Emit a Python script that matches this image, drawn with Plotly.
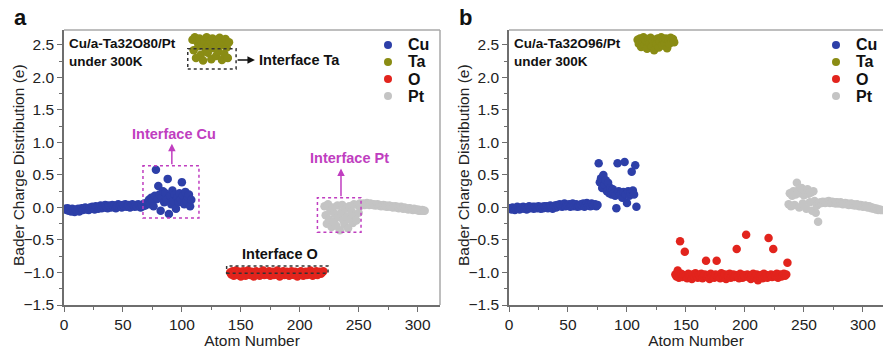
import plotly.graph_objects as go

# ---------------- data: Bader charge per atom ----------------
# Panel a : Cu / a-Ta32O80 / Pt
a_cu = [-0.02, -0.04, -0.01, -0.05, -0.03, -0.06, -0.02, -0.04, -0.07, -0.03,
        -0.05, -0.02, -0.06, -0.03, -0.01, -0.04, -0.02, 0.00, -0.03, -0.01,
        -0.04, 0.00, -0.02, 0.01, -0.01, -0.03, 0.02, 0.00, -0.02, 0.01,
        0.03, -0.01, 0.02, 0.00, 0.04, 0.01, -0.01, 0.03, 0.02, 0.00,
        0.04, 0.01, 0.03, -0.01, 0.02, 0.05, 0.01, 0.03, 0.00, 0.04,
        0.02, 0.05, 0.01, 0.03, 0.04, 0.00, 0.02, 0.05, 0.03, 0.01,
        0.04, 0.02, 0.05, 0.03, 0.00, 0.04, 0.02, 0.06, 0.03, 0.05,
        0.08, 0.12, 0.05, 0.15, 0.10, 0.02, 0.18, 0.58, 0.13, 0.33,
        0.20, -0.05, 0.15, 0.25, 0.08, 0.22, 0.12, 0.44, -0.10, 0.18,
        0.05, 0.26, 0.10, 0.20, -0.02, 0.15, 0.08, 0.22, 0.12, 0.39,
        0.18, 0.05, 0.24, 0.10, 0.16, 0.20, 0.02, 0.12]
a_ta = [2.58, 2.42, 2.62, 2.30, 2.55, 2.48, 2.60, 2.35, 2.52, 2.26,
        2.57, 2.44, 2.62, 2.38, 2.50, 2.56, 2.28, 2.60, 2.45, 2.53,
        2.33, 2.58, 2.40, 2.61, 2.49, 2.27, 2.55, 2.36, 2.59, 2.46,
        2.30, 2.54]
a_o = [-1.00, -1.03, -0.98, -1.05, -1.01, -0.97, -1.04, -1.02, -0.99, -1.06,
       -1.01, -0.98, -1.03, -1.05, -1.00, -0.97, -1.02, -1.04, -0.99, -1.01,
       -1.06, -1.00, -0.98, -1.03, -1.01, -1.05, -0.99, -1.02, -0.97, -1.04,
       -1.00, -1.03, -1.01, -0.98, -1.05, -1.02, -0.99, -1.04, -1.00, -1.03,
       -0.97, -1.01, -1.06, -1.00, -1.02, -0.98, -1.04, -1.01, -0.99, -1.03,
       -1.05, -1.00, -0.98, -1.02, -1.04, -0.99, -1.01, -1.06, -1.00, -1.03,
       -0.98, -1.02, -1.05, -1.00, -0.99, -1.04, -1.01, -1.03, -0.97, -1.02,
       -1.05, -1.00, -1.03, -0.98, -1.04, -1.01, -0.99, -1.02, -1.00, -0.98]
a_pt = [0.02, -0.12, -0.25, 0.05, -0.18, -0.05, -0.30, 0.00, -0.22, -0.10,
        -0.28, 0.03, -0.15, -0.35, -0.08, 0.04, -0.20, -0.26, -0.02, -0.14,
        -0.32, 0.02, -0.18, -0.06, -0.24, 0.05, -0.12, -0.20, 0.04, -0.08,
        0.06, 0.03,
        0.05, 0.06, 0.04, 0.05, 0.07, 0.05, 0.04, 0.06, 0.05, 0.04,
        0.05, 0.03, 0.04, 0.05, 0.03, 0.04, 0.02, 0.03, 0.04, 0.02,
        0.03, 0.01, 0.02, 0.03, 0.01, 0.02, 0.00, 0.01, 0.02, 0.00,
        0.01, -0.01, 0.00, 0.01, -0.01, -0.02, 0.00, -0.01, -0.02, -0.03,
        -0.01, -0.02, -0.03, -0.04, -0.02, -0.03, -0.04, -0.03, -0.05, -0.04,
        -0.05, -0.04, -0.05, -0.05]

# Panel b : Cu / a-Ta32O96 / Pt
b_cu = [-0.01, -0.03, 0.00, -0.02, -0.04, -0.01, 0.01, -0.02, -0.03, 0.00,
        -0.01, 0.01, -0.02, 0.00, -0.03, -0.01, 0.02, -0.01, 0.00, 0.01,
        -0.02, 0.01, 0.00, -0.01, 0.02, 0.00, -0.02, 0.01, -0.01, 0.02,
        0.00, 0.02, -0.01, 0.01, 0.03, 0.00, -0.02, 0.01, 0.03, 0.00,
        0.04, 0.02, 0.05, 0.03, 0.01, 0.04, 0.06, 0.02, 0.04, 0.03,
        0.05, 0.01, 0.03, 0.06, 0.02, 0.04, 0.05, 0.01, 0.03, 0.02,
        0.05, 0.03, 0.06, 0.01, 0.04, 0.07, 0.03, 0.05, 0.02, 0.06,
        0.04, 0.03, 0.05, 0.02, 0.04,
        0.68, 0.39, 0.45, 0.30, 0.50, 0.35, 0.42, 0.25, 0.38, 0.22,
        0.30, 0.20, 0.28, 0.22, 0.18, -0.01, 0.68, 0.25, 0.20, 0.22,
        0.15, 0.24, 0.70, 0.20, 0.07, 0.25, 0.18, 0.22, 0.55, 0.26,
        0.20, 0.65, 0.01]
b_ta = [2.58, 2.52, 2.60, 2.47, 2.55, 2.62, 2.50, 2.57, 2.44, 2.59,
        2.53, 2.61, 2.48, 2.56, 2.42, 2.58, 2.51, 2.60, 2.46, 2.55,
        2.62, 2.49, 2.57, 2.53, 2.60, 2.45, 2.58, 2.52, 2.61, 2.56,
        2.59, 2.54]
b_o = [-1.03, -1.06, -0.97, -1.08, -0.52, -1.02, -1.07, -1.04, -0.68, -1.05,
       -1.09, -1.02, -1.06, -1.04, -1.10, -1.03, -1.07, -1.01, -1.05, -1.08,
       -1.04, -1.06, -1.02, -1.09, -1.05, -1.03, -0.82, -1.07, -1.04, -1.10,
       -1.02, -1.06, -1.05, -1.08, -1.03, -0.82, -1.06, -1.04, -1.09, -1.01,
       -1.05, -1.07, -1.03, -1.10, -1.04, -1.06, -1.02, -1.08, -1.05, -1.03,
       -1.07, -1.04, -0.64, -1.06, -1.09, -1.02, -1.05, -1.08, -1.04, -1.06,
       -0.42, -1.03, -1.07, -1.05, -1.10, -1.04, -1.02, -1.08, -1.06, -1.03,
       -1.12, -1.05, -1.07, -1.04, -1.09, -1.02, -1.06, -1.04, -1.08, -0.47,
       -1.05, -1.03, -1.07, -0.64, -1.04, -1.06, -1.02, -1.08, -1.05, -1.03,
       -1.06, -1.04, -1.02, -1.05, -1.03, -0.85]
b_pt = [0.05, 0.22, 0.02, 0.18, 0.25, 0.04, 0.20, 0.38, 0.26, 0.00,
        0.22, 0.30, 0.06, 0.19, 0.24, -0.02, 0.28, 0.21, 0.08, 0.23,
        -0.05, 0.25, 0.10, -0.08, 0.03, -0.22,
        0.06, 0.08, 0.07, 0.09, 0.08, 0.07, 0.09, 0.08, 0.10, 0.07,
        0.08, 0.09, 0.07, 0.08, 0.06, 0.08, 0.07, 0.06, 0.08, 0.07,
        0.05, 0.06, 0.07, 0.05, 0.06, 0.04, 0.05, 0.06, 0.04, 0.05,
        0.03, 0.04, 0.05, 0.03, 0.02, 0.04, 0.03, 0.01, 0.02, 0.03,
        0.01, 0.00, 0.02, 0.01, -0.01, 0.00, -0.02, -0.01, -0.03, -0.02,
        -0.04, -0.03, -0.04, -0.04]

elements = ["Cu", "Ta", "O", "Pt"]
colors = {"Cu": "#2d3fa8", "Ta": "#8a8c14", "O": "#e2241d", "Pt": "#c4c4c4"}
panels = [
    {"Cu": a_cu, "Ta": a_ta, "O": a_o, "Pt": a_pt},
    {"Cu": b_cu, "Ta": b_ta, "O": b_o, "Pt": b_pt},
]
titles = ["Cu/a-Ta32O80/Pt<br>under 300K", "Cu/a-Ta32O96/Pt<br>under 300K"]
y_title = "Bader Charge Distribution (e)"

FONT = "Liberation Sans, Arial, sans-serif"
MAGENTA = "#c03ec0"
W, H = 883, 349

fig = go.Figure()

for p, data in enumerate(panels):
    xa = "x" if p == 0 else "x2"
    ya = "y" if p == 0 else "y2"
    start = 1
    for el in elements:
        vals = data[el]
        atoms = list(range(start, start + len(vals)))
        start += len(vals)
        fig.add_trace(go.Scatter(
            x=atoms, y=vals, mode="markers", name=el,
            marker=dict(size=8.5, color=colors[el]),
            xaxis=xa, yaxis=ya, showlegend=False,
        ))

axis_common = dict(
    showgrid=False, zeroline=False, showline=True, linecolor="#6e6e6e",
    linewidth=1.5, ticks="outside", ticklen=5, tickcolor="#6e6e6e",
    automargin=False,
    tickfont=dict(family=FONT, size=15.5, color="#222"),
)
xaxis_cfg = dict(axis_common, tickvals=[0, 50, 100, 150, 200, 250, 300],
                 minor=dict(ticks="outside", ticklen=3, dtick=25, tick0=0,
                            tickcolor="#6e6e6e"),
                 title=dict(text="Atom Number", standoff=2,
                            font=dict(family=FONT, size=15.5, color="#222")))
yaxis_cfg = dict(axis_common, range=[-1.5, 2.73],
                 tickvals=[-1.5, -1.0, -0.5, 0.0, 0.5, 1.0, 1.5, 2.0, 2.5],
                 tickformat=".1f",
                 minor=dict(ticks="outside", ticklen=3, dtick=0.25, tick0=0,
                            tickcolor="#6e6e6e"))

ytop = 1 - 30 / H
ybot = 1 - 305 / H

fig.update_layout(
    width=W, height=H, margin=dict(l=0, r=0, t=0, b=0),
    paper_bgcolor="white", plot_bgcolor="white",
    xaxis=dict(xaxis_cfg, domain=[64 / W, 440 / W], range=[0, 319], anchor="y"),
    yaxis=dict(yaxis_cfg, domain=[ybot, ytop], anchor="x"),
    xaxis2=dict(xaxis_cfg, domain=[509 / W, 1.0], range=[0, 317], anchor="y2"),
    yaxis2=dict(yaxis_cfg, domain=[ybot, ytop], anchor="x2"),
    showlegend=False,
)

shapes = []
# light top / right frame lines
for xr in ["x", "x2"]:
    shapes.append(dict(type="line", xref=f"{xr} domain", yref="paper",
                       x0=0, x1=1, y0=ytop, y1=ytop,
                       line=dict(color="#a8a8a8", width=1.5), layer="below"))
shapes.append(dict(type="line", xref="x domain", yref="paper", x0=1, x1=1,
                   y0=ybot, y1=ytop, line=dict(color="#a8a8a8", width=1.5),
                   layer="below"))

# dotted boxes around interface atoms (panel a)
boxes = [
    (105, 146, 2.13, 2.44, "#333"),      # Ta
    (67, 114.5, -0.16, 0.64, MAGENTA),   # Cu
    (215, 252, -0.38, 0.15, MAGENTA),    # Pt
    (138, 224, -1.01, -0.90, "#333"),    # O
]
for x0, x1, y0, y1, c in boxes:
    shapes.append(dict(type="rect", xref="x", yref="y", x0=x0, x1=x1,
                       y0=y0, y1=y1, line=dict(color=c, width=1.5, dash="dot"),
                       layer="above"))

ann = []
# y-axis titles
for tx in (19, 464):
    ann.append(dict(text=y_title, xref="paper", yref="paper", x=tx / W,
                    y=1 - 165 / H, textangle=-90, showarrow=False,
                    xanchor="center", yanchor="middle",
                    font=dict(family=FONT, size=15.5, color="#222")))

# element key for each panel: dot + bold label
key_rows = [45, 62, 79, 96]
for key_x in (388, 836):
    for el, yy in zip(elements, key_rows):
        shapes.append(dict(type="circle", xref="paper", yref="paper",
                           xsizemode="pixel", ysizemode="pixel",
                           xanchor=key_x / W, yanchor=1 - yy / H,
                           x0=-4, x1=4, y0=-4, y1=4,
                           fillcolor=colors[el], line=dict(width=0)))
        ann.append(dict(text=f"<b>{el}</b>", xref="paper", yref="paper",
                        x=(key_x + 18) / W, y=1 - yy / H, xanchor="left",
                        yanchor="middle", showarrow=False,
                        font=dict(family=FONT, size=16, color="#111")))
fig.update_layout(shapes=shapes)

# panel letters
ann.append(dict(text="<b>a</b>", xref="paper", yref="paper", x=20 / W,
                y=1 - 17 / H, showarrow=False, xanchor="center", yanchor="middle",
                font=dict(family=FONT, size=22, color="#111")))
ann.append(dict(text="<b>b</b>", xref="paper", yref="paper", x=465 / W,
                y=1 - 17 / H, showarrow=False, xanchor="center", yanchor="middle",
                font=dict(family=FONT, size=22, color="#111")))
# system labels
for xr, yr, t in [("x", "y", titles[0]), ("x2", "y2", titles[1])]:
    ann.append(dict(text=f"<b>{t}</b>", xref=f"{xr} domain", yref=f"{yr} domain",
                    x=0.008, y=0.985, xanchor="left", yanchor="top", align="left",
                    showarrow=False,
                    font=dict(family=FONT, size=13.5, color="#111")))

# Interface Ta: horizontal arrow and label
ann.append(dict(text="", x=162, y=2.27, ax=146, ay=2.27, xref="x", yref="y",
                axref="x", ayref="y", showarrow=True, arrowhead=2,
                arrowsize=1, arrowwidth=1.5, arrowcolor="#111"))
ann.append(dict(text="<b>Interface Ta</b>", x=164, y=2.27, xref="x", yref="y",
                xanchor="left", yanchor="middle", showarrow=False,
                font=dict(family=FONT, size=14.5, color="#111")))
# Interface Cu
ann.append(dict(text="", x=91.5, y=0.98, ax=91.5, ay=0.64, xref="x", yref="y",
                axref="x", ayref="y", showarrow=True, arrowhead=2,
                arrowsize=1, arrowwidth=1.5, arrowcolor=MAGENTA))
ann.append(dict(text="<b>Interface Cu</b>", x=93, y=1.13, xref="x", yref="y",
                xanchor="center", yanchor="middle", showarrow=False,
                font=dict(family=FONT, size=14.5, color=MAGENTA)))
# Interface Pt
ann.append(dict(text="", x=235, y=0.6, ax=235, ay=0.15, xref="x", yref="y",
                axref="x", ayref="y", showarrow=True, arrowhead=2,
                arrowsize=1, arrowwidth=1.5, arrowcolor=MAGENTA))
ann.append(dict(text="<b>Interface Pt</b>", x=242, y=0.76, xref="x", yref="y",
                xanchor="center", yanchor="middle", showarrow=False,
                font=dict(family=FONT, size=14.5, color=MAGENTA)))
# Interface O
ann.append(dict(text="<b>Interface O</b>", x=183, y=-0.71, xref="x", yref="y",
                xanchor="center", yanchor="middle", showarrow=False,
                font=dict(family=FONT, size=14.5, color="#111")))

fig.update_layout(annotations=ann)

fig.write_html("out.html")
